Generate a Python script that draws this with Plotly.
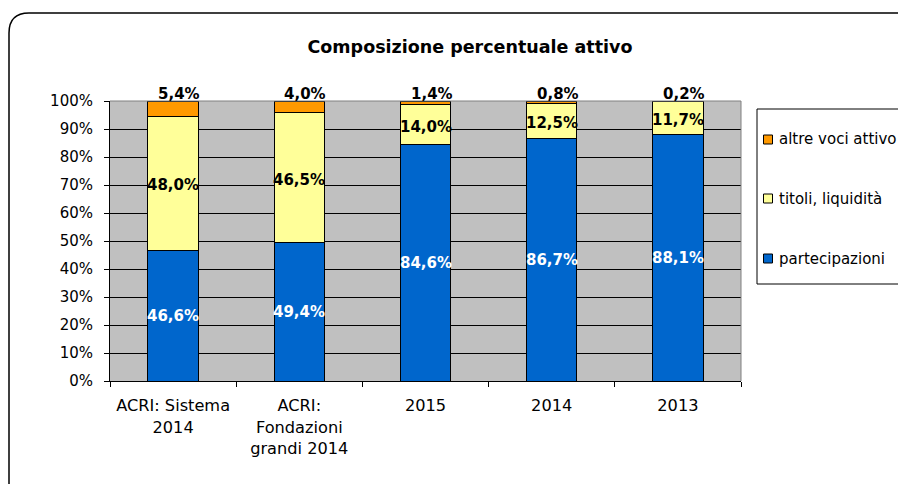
import plotly.graph_objects as go

# Categories and series shares (%)
categories = ["ACRI: Sistema<br>2014", "ACRI:<br>Fondazioni<br>grandi 2014", "2015", "2014", "2013"]
partecipazioni = [46.6, 49.4, 84.6, 86.7, 88.1]
titoli_liquidita = [48.0, 46.5, 14.0, 12.5, 11.7]
altre_voci = [5.4, 4.0, 1.4, 0.8, 0.2]

series_names = ["partecipazioni", "titoli, liquidità", "altre voci attivo"]
series_colors = ["#0066CC", "#FFFF99", "#FF9900"]
y_ticks = list(range(0, 101, 10))
y_tick_labels = [f"{v}%" for v in y_ticks]

W, H = 898, 484
FONT = "DejaVu Sans"

# numeric slot for each category along the x axis
pos = list(range(len(categories)))
boundaries = [p - 0.5 for p in pos] + [pos[-1] + 0.5]


def px(x):
    return x / W


def py(y):
    return 1 - y / H


def pct(v):
    return f"{v:.1f}%".replace(".", ",")


fig = go.Figure()

series_values = [partecipazioni, titoli_liquidita, altre_voci]
for name, vals, color in zip(series_names, series_values, series_colors):
    fig.add_trace(go.Bar(
        x=pos, y=vals, name=name,
        marker=dict(color=color, line=dict(color="#000000", width=1)),
        width=0.4, showlegend=False, hoverinfo="skip",
    ))

# Value labels centred on the blue and yellow segments
mid_blue = [p / 2 for p in partecipazioni]
mid_yellow = [p + t / 2 for p, t in zip(partecipazioni, titoli_liquidita)]
for x, y, v in zip(pos, mid_blue, partecipazioni):
    fig.add_annotation(
        x=x, y=y, xref="x", yref="y", text=f"<b>{pct(v)}</b>", showarrow=False,
        font=dict(family=FONT, size=15, color="#FFFFFF"),
    )
for x, y, v in zip(pos, mid_yellow, titoli_liquidita):
    fig.add_annotation(
        x=x, y=y, xref="x", yref="y", text=f"<b>{pct(v)}</b>", showarrow=False,
        yshift=-2,
        font=dict(family=FONT, size=15, color="#000000"),
    )

# Labels for the small top segment, above each stack
totals = [p + t + a for p, t, a in zip(partecipazioni, titoli_liquidita, altre_voci)]
for x, tot, a in zip(pos, totals, altre_voci):
    fig.add_annotation(
        x=x, y=tot, xref="x", yref="y", text=f"<b>{pct(a)}</b>", showarrow=False,
        yanchor="bottom", xshift=6, yshift=-4,
        font=dict(family=FONT, size=15, color="#000000"),
    )

fig.update_layout(
    width=W, height=H,
    margin=dict(l=0, r=0, t=0, b=0, autoexpand=False),
    paper_bgcolor="#FFFFFF", plot_bgcolor="#C0C0C0",
    barmode="stack",
    font=dict(family=FONT, size=15, color="#000000"),
    showlegend=False,
    title=dict(
        text="<b>Composizione percentuale attivo</b>",
        x=px(470), xanchor="center", y=py(47), yanchor="middle",
        font=dict(family=FONT, size=17.5, color="#000000"),
    ),
    xaxis=dict(
        domain=[px(110), px(741)], range=[boundaries[0], boundaries[-1]],
        tickvals=pos, ticktext=categories, ticks="",
        minor=dict(tickvals=boundaries, ticks="outside", ticklen=5,
                   tickcolor="#000000", showgrid=False),
        showline=True, linecolor="#000000", linewidth=1,
        tickfont=dict(family=FONT, size=16.2), showgrid=False, zeroline=False,
        tickangle=0, ticklabelstandoff=10,
    ),
    yaxis=dict(
        domain=[py(381), py(101)], range=[0, 100],
        tickvals=y_ticks, ticktext=y_tick_labels,
        showline=True, linecolor="#000000", linewidth=1,
        ticks="outside", ticklen=5, tickcolor="#000000",
        ticklabelstandoff=8,
        showgrid=True, gridcolor="#000000", gridwidth=1,
        zeroline=False, tickfont=dict(family=FONT, size=15),
    ),
)

shapes = []
# Plot area frame on top and right
shapes.append(dict(
    type="path", xref="paper", yref="paper",
    path=f"M {px(110)},{py(101)} L {px(741)},{py(101)} L {px(741)},{py(381)}",
    line=dict(color="#808080", width=1), layer="above",
))
# Outer rounded chart border
shapes.append(dict(
    type="path", xref="paper", yref="paper",
    path=(f"M {px(9)},{py(492)} L {px(9)},{py(33)} "
          f"Q {px(9)},{py(13)} {px(29)},{py(13)} L {px(905)},{py(13)}"),
    line=dict(color="#000000", width=1.5),
))
# Legend frame
shapes.append(dict(
    type="rect", xref="paper", yref="paper",
    x0=px(757), x1=px(905), y0=py(284), y1=py(109),
    line=dict(color="#000000", width=1), fillcolor="rgba(0,0,0,0)",
))

legend_rows = [139.5, 198.5, 258.5]
legend_order = list(zip(series_names, series_colors))[::-1]
for (name, color), yc in zip(legend_order, legend_rows):
    shapes.append(dict(
        type="rect", xref="paper", yref="paper",
        x0=px(763.5), x1=px(772.5), y0=py(yc + 4.5), y1=py(yc - 4.5),
        line=dict(color="#000000", width=1), fillcolor=color,
    ))
    fig.add_annotation(
        x=px(777), y=py(yc), xref="paper", yref="paper", text=name,
        showarrow=False, xanchor="left", yanchor="middle",
        font=dict(family=FONT, size=15, color="#000000"),
    )

fig.update_layout(shapes=shapes)
fig.write_html("out.html")
